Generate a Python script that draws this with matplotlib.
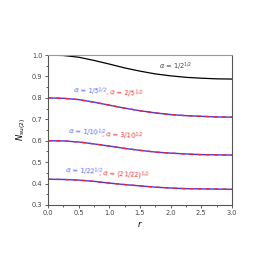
import numpy as np
import matplotlib
matplotlib.use("Agg")
import matplotlib.pyplot as plt
from matplotlib.ticker import MultipleLocator

# values
r = [0.0, 0.25, 0.5, 0.75, 1.0, 1.25, 1.5, 1.75, 2.0, 2.25, 2.5, 2.75, 3.0]
n_half = [1.000, 0.998, 0.990, 0.975, 0.958, 0.940, 0.925, 0.912, 0.903,
          0.896, 0.892, 0.889, 0.888]
n_fifth = [0.800, 0.798, 0.792, 0.780, 0.766, 0.752, 0.740, 0.730, 0.722,
           0.717, 0.714, 0.711, 0.710]
n_tenth = [0.600, 0.599, 0.594, 0.585, 0.575, 0.564, 0.555, 0.547, 0.542,
           0.538, 0.535, 0.534, 0.533]
n_22 = [0.420, 0.419, 0.416, 0.410, 0.402, 0.395, 0.389, 0.383, 0.379,
        0.376, 0.375, 0.374, 0.373]

BLUE = "#3a3aff"
RED = "#ff2020"
BLUE_T = "#5a6af0"
RED_T = "#f03a3a"

fig = plt.figure(figsize=(2.7, 2.7), dpi=100)
ax = fig.add_axes([0.178, 0.241, 0.681, 0.555])

ax.plot(r, n_half, color="black", lw=0.9)
for ys in (n_fifth, n_tenth, n_22):
    ax.plot(r, ys, color=BLUE, lw=1.0)
    ax.plot(r, ys, color=RED, lw=1.0, ls=(0, (3, 3)))

fs = 4.8
ax.text(2.08, 0.914, r"$\alpha$ = 1/2$^{1/2}$", fontsize=fs, color="#444444",
        ha="center", va="bottom")
labels = [(0.40, 0.795, r"$\alpha$ = 1/5$^{1/2}$", 0.93, 0.784, r", $\alpha$ = 2/5$^{1/2}$"),
          (0.33, 0.603, r"$\alpha$ = 1/10$^{1/2}$", 0.87, 0.588, r", $\alpha$ = 3/10$^{1/2}$"),
          (0.28, 0.423, r"$\alpha$ = 1/22$^{1/2}$", 0.82, 0.404, r", $\alpha$ = (21/22)$^{1/2}$")]
for bx, by, bt, rx, ry, rt in labels:
    ax.text(bx, by, bt, fontsize=fs, color=BLUE_T, rotation=-3, va="bottom")
    ax.text(rx, ry, rt, fontsize=fs, color=RED_T, rotation=-3, va="bottom")

ax.set_xlim(0, 3)
ax.set_ylim(0.3, 1.0)
ax.xaxis.set_major_locator(MultipleLocator(0.5))
ax.xaxis.set_minor_locator(MultipleLocator(0.25))
ax.yaxis.set_major_locator(MultipleLocator(0.1))
ax.yaxis.set_minor_locator(MultipleLocator(0.05))
ax.xaxis.set_major_formatter(matplotlib.ticker.FormatStrFormatter("%.1f"))
ax.yaxis.set_major_formatter(matplotlib.ticker.FormatStrFormatter("%.1f"))
ax.tick_params(which="both", direction="out", labelsize=4.8, colors="#444444",
               top=False, right=False, width=0.6)
ax.tick_params(which="major", length=2.5, pad=1.5)
ax.tick_params(which="minor", length=1.5)
for s in ax.spines.values():
    s.set_color("#555555")
    s.set_linewidth(0.8)
ax.spines["top"].set_color("#999999")

ax.set_xlabel(r"$r$", fontsize=6, labelpad=2)
ax.set_ylabel(r"$N_{\mathrm{su(2)}}$", fontsize=6, labelpad=3)

fig.savefig("out.png", dpi=100)
